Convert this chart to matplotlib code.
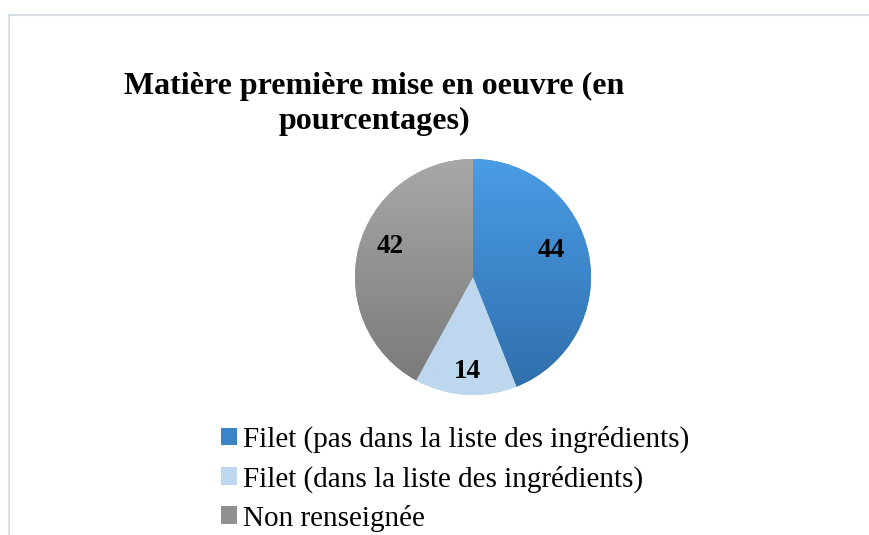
import numpy as np
import matplotlib
matplotlib.use("Agg")
import matplotlib.pyplot as plt
from matplotlib.patches import Patch
from matplotlib.lines import Line2D
from matplotlib.colors import LinearSegmentedColormap

# Data
categories = ["Filet (pas dans la liste des ingrédients)",
              "Filet (dans la liste des ingrédients)",
              "Non renseignée"]
values = [44, 14, 42]
title = "Matière première mise en oeuvre (en\npourcentages)"

# Gradient colours (top, bottom) for each slice
grad_top = ["#4A9DE6", "#BDD7EE", "#A8A8A8"]
grad_bot = ["#2F6DAA", "#BDD7EE", "#787878"]
mid_cols = ["#3C84C8", "#BDD7EE", "#909090"]

serif = ["Liberation Serif", "DejaVu Serif"]

W, H = 870, 535
fig = plt.figure(figsize=(W / 100, H / 100), dpi=100)
fig.patch.set_facecolor("white")

# Chart frame (top and left border visible)
border = "#D9DFE7"
fig.add_artist(Line2D([9.5 / W, 1.0], [1 - 14.5 / H, 1 - 14.5 / H],
                      transform=fig.transFigure, color=border, lw=1.5))
fig.add_artist(Line2D([9.5 / W, 9.5 / W], [0, 1 - 14.5 / H],
                      transform=fig.transFigure, color=border, lw=1.5))

# Pie axes
cx, cy, R = 473, 277, 118
ax = fig.add_axes([(cx - R) / W, (H - cy - R) / H, 2 * R / W, 2 * R / H])
wedges, _ = ax.pie(values, startangle=90, counterclock=False, radius=1,
                   colors=mid_cols, wedgeprops=dict(linewidth=0))
ax.set_xlim(-1, 1)
ax.set_ylim(-1, 1)
ax.set_aspect("equal")
ax.axis("off")

# Vertical gradient fills clipped to wedges
for w, ct, cb in zip(wedges, grad_top, grad_bot):
    cmap = LinearSegmentedColormap.from_list("g", [cb, ct])
    grad = np.linspace(0, 1, 256).reshape(-1, 1)
    im = ax.imshow(grad, cmap=cmap, extent=[-1, 1, -1, 1], origin="lower",
                   aspect="auto", zorder=w.get_zorder() + 0.1)
    im.set_clip_path(w)

# Data labels
label_r = [0.70, 0.80, 0.75]
label_shift = [7.6, 0, -6]  # degrees
for w, v, r, s in zip(wedges, values, label_r, label_shift):
    ang = np.deg2rad((w.theta1 + w.theta2) / 2 + s)
    ax.text(r * np.cos(ang), r * np.sin(ang), str(v), ha="center", va="center",
            fontsize=19.5, fontweight="bold", family=serif, zorder=10)

# Title
fig.text(374 / W, 1 - 104 / H, title, ha="center", va="center",
         fontsize=23, fontweight="bold", family=serif, linespacing=1.25)

# Legend
handles = [Patch(facecolor=c, edgecolor="none") for c in mid_cols]
leg = fig.legend(handles, categories, loc="upper left",
                 bbox_to_anchor=(221 / W, 1 - 426 / H),
                 frameon=False, prop=dict(family=serif, size=21),
                 handlelength=0.55, handleheight=0.55, handletextpad=0.22,
                 labelspacing=0.41, borderpad=0, borderaxespad=0)

fig.savefig("out.png", dpi=100, facecolor="white")
